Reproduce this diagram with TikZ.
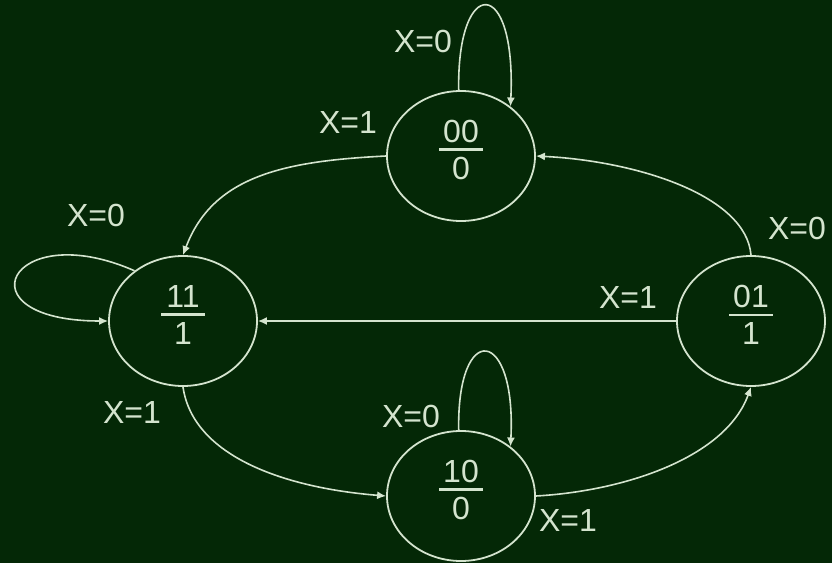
\documentclass[tikz,border=0pt]{standalone}
\usepackage{fontspec}
\setmainfont{Liberation Sans}
\usetikzlibrary{arrows.meta,shapes.geometric}
\definecolor{bg}{RGB}{4,40,6}
\definecolor{fg}{RGB}{212,228,206}
\newcommand{\stfrac}[2]{\raisebox{12pt}{\vbox{\hbox to 44pt{\hss#1\hss}\kern5.5pt\hrule height 2.5pt\kern6.5pt\hbox to 44pt{\hss#2\hss}}}}
\begin{document}
\begin{tikzpicture}[x=1pt,y=1pt,
  state/.style={draw=fg, line width=1.8pt, ellipse, minimum width=148pt, minimum height=130pt, inner sep=0pt, text=fg, font=\fontsize{32}{38}\selectfont},
  lbl/.style={text=fg, font=\fontsize{32}{38}\selectfont, inner sep=0pt},
  arr/.style={draw=fg, line width=1.6pt, -{Latex[length=9pt,width=8pt]}}]
\fill[bg] (0,0) rectangle (832,563);
\useasboundingbox (0,0) rectangle (832,563);
\node[state] (s00) at (461,407) {\stfrac{00}{0}};
\node[state] (s11) at (183,242) {\stfrac{11}{1}};
\node[state] (s01) at (751,242) {\stfrac{01}{1}};
\node[state] (s10) at (461,67) {\stfrac{10}{0}};
\draw[arr] (s00.92) .. controls +(-2,115) and +(6,132) .. (s00.45);
\draw[arr] (s00.west) .. controls +(-100,-5) and +(30,80) .. (s11.north);
\draw[arr] (s01.north) .. controls +(-5,60) and +(100,-5) .. (s00.east);
\draw[arr] (s01.west) -- (s11.east);
\draw[arr] (s11.134) .. controls +(-125,55) and +(-150,0) .. (s11.west);
\draw[arr] (s11.south) .. controls +(10,-70) and +(-100,8) .. (s10.west);
\draw[arr] (s10.92) .. controls +(-2,110) and +(6,120) .. (s10.45);
\draw[arr] (s10.east) .. controls +(90,5) and +(-25,-70) .. (s01.south);
\node[lbl] (l1) at (423,522) {X=0};
\node[lbl] (l2) at (348,441) {X=1};
\node[lbl] (l3) at (797,335) {X=0};
\node[lbl] (l4) at (628,266) {X=1};
\node[lbl] (l5) at (96,348) {X=0};
\node[lbl] (l6) at (132,151) {X=1};
\node[lbl] (l7) at (411,147) {X=0};
\node[lbl] (l8) at (568,43) {X=1};
\end{tikzpicture}
\end{document}
